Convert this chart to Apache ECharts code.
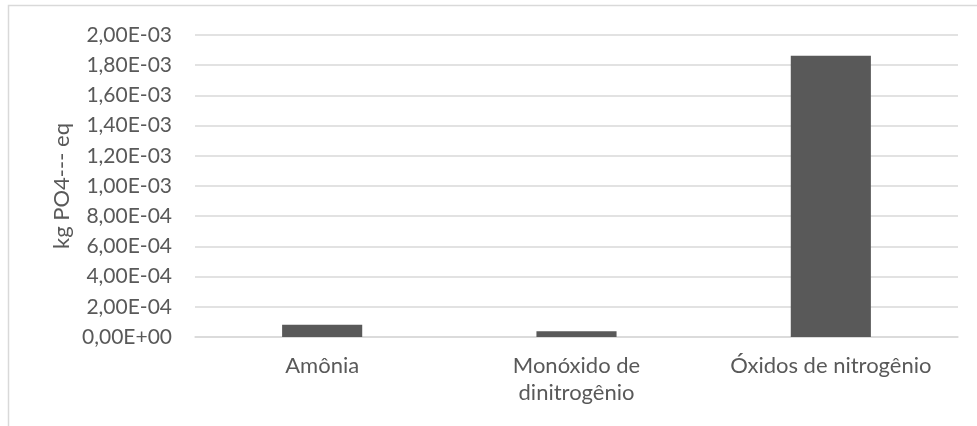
<!DOCTYPE html>
<html>
<head>
<meta charset="utf-8">
<script src="https://cdn.jsdelivr.net/npm/echarts@6/dist/echarts.min.js"></script>
<style>
  html, body { margin: 0; padding: 0; background: #ffffff; }
  #chart { width: 977px; height: 426px; }
</style>
</head>
<body>
<div id="chart"></div>
<script>
// Emission sources and their eutrophication contribution
const categories = ['Amônia', 'Monóxido de\ndinitrogênio', 'Óxidos de nitrogênio'];
const values = [8.1e-5, 3.8e-5, 1.863e-3];
const axisName = 'kg PO4--- eq';

const FONT = 'Lato, "Open Sans", sans-serif';
const TEXT_COLOR = '#595959';

// "2,00E-03" style scientific labels with decimal comma
function sciLabel(v) {
  const s = Number(v).toExponential(2);
  const [mant, exp] = s.split('e');
  const sign = exp[0] === '-' ? '-' : '+';
  const digits = exp.replace(/^[+-]/, '').padStart(2, '0');
  return mant.replace('.', ',') + 'E' + sign + digits;
}

const chart = echarts.init(document.getElementById('chart'), null, { renderer: 'canvas' });
chart.setOption({
  animation: false,
  backgroundColor: '#ffffff',
  textStyle: { fontFamily: FONT, color: TEXT_COLOR },
  graphic: [{
    type: 'rect',
    shape: { x: 8.5, y: 5.5, width: 990, height: 440 },
    style: { fill: null, stroke: '#d9d9d9', lineWidth: 1.5 },
    silent: true
  }],
  grid: { left: 195, right: 19, top: 35, bottom: 89, containLabel: false },
  xAxis: {
    type: 'category',
    data: categories,
    axisLine: { show: true, lineStyle: { color: '#d9d9d9', width: 1.5 } },
    axisTick: { show: false },
    axisLabel: {
      color: TEXT_COLOR,
      fontSize: 22,
      fontFamily: FONT,
      margin: 15,
      lineHeight: 27,
      interval: 0
    }
  },
  yAxis: {
    type: 'value',
    min: 0,
    max: 0.002,
    interval: 0.0002,
    name: axisName,
    nameLocation: 'middle',
    nameGap: 122,
    nameRotate: 90,
    nameMoveOverlap: false,
    nameTextStyle: { color: TEXT_COLOR, fontSize: 22, fontFamily: FONT },
    axisLine: { show: false },
    axisTick: { show: false },
    splitLine: { show: true, lineStyle: { color: '#d9d9d9', width: 1.5 } },
    axisLabel: {
      color: TEXT_COLOR,
      fontSize: 21,
      fontFamily: FONT,
      margin: 23,
      formatter: sciLabel
    }
  },
  series: [{
    type: 'bar',
    data: values,
    barWidth: '31.5%',
    itemStyle: { color: '#595959' }
  }]
});
</script>
</body>
</html>
